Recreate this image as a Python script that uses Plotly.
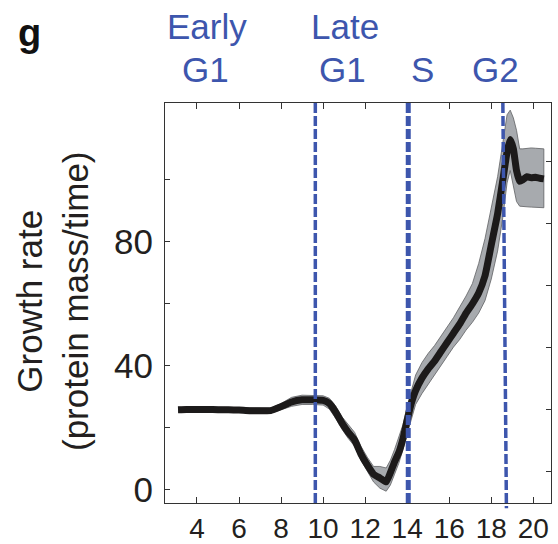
import plotly.graph_objects as go

# ---- data ----
time_h = [3.1, 3.5, 4.0, 4.5, 5.0, 5.5, 6.0, 6.5, 7.0, 7.5, 8.0, 8.5, 9.0, 9.5, 10.0,
          10.3, 10.6, 10.9, 11.2, 11.5, 11.8, 12.1, 12.4, 12.7, 13.0, 13.2, 13.4, 13.6,
          13.8, 14.0, 14.2, 14.4, 14.7, 15.0, 15.3, 15.6, 15.9, 16.2, 16.5, 16.8, 17.1,
          17.4, 17.7, 18.0, 18.3, 18.55, 18.75, 18.9, 19.05, 19.2, 19.35, 19.5, 19.7,
          19.9, 20.1, 20.3, 20.5]
growth_mean = [25.8, 25.9, 25.9, 25.9, 25.8, 25.8, 25.7, 25.5, 25.5, 25.5, 26.8, 28.3,
               29.0, 29.0, 28.8, 27.8, 25.0, 21.5, 18.5, 16.0, 11.5, 8.0, 5.0, 3.8, 2.5,
               5.5, 9.0, 12.0, 16.5, 22.5, 28.0, 32.0, 36.0, 39.0, 41.5, 44.5, 47.5, 50.5,
               53.5, 57.0, 60.0, 63.5, 69.0, 79.0, 89.0, 100.0, 109.0, 113.0, 110.0,
               103.0, 99.5, 100.0, 101.0, 100.7, 100.8, 100.5, 100.3]
growth_low = [25.0, 25.1, 25.1, 25.1, 25.0, 25.0, 24.9, 24.7, 24.7, 24.7, 25.8, 26.9,
              27.5, 27.5, 27.3, 26.0, 23.0, 19.5, 16.5, 14.0, 9.5, 6.0, 2.5, 0.5, -0.5,
              1.5, 5.0, 8.5, 13.0, 18.0, 23.0, 27.5, 31.0, 34.0, 37.0, 40.0, 43.0, 46.0,
              48.5, 51.5, 54.0, 57.0, 61.0, 68.0, 77.0, 88.0, 99.0, 103.0, 98.0, 93.0,
              91.5, 91.5, 91.3, 91.2, 91.1, 91.0, 91.0]
growth_high = [26.6, 26.7, 26.7, 26.7, 26.6, 26.6, 26.5, 26.3, 26.3, 26.3, 27.8, 29.8,
               30.5, 30.5, 30.3, 29.5, 27.0, 23.5, 21.0, 18.5, 14.0, 10.5, 7.5, 7.5, 7.0,
               9.5, 13.0, 17.0, 21.0, 27.0, 32.0, 37.0, 41.0, 44.0, 46.5, 49.5, 52.5,
               55.5, 59.0, 62.5, 66.5, 73.0, 81.0, 91.0, 101.0, 112.0, 121.0, 122.5, 120.0,
               116.0, 110.0, 110.0, 110.2, 110.3, 110.2, 110.1, 110.0]
phase_boundaries = [9.63, 14.05, 18.55]
x_ticks = [4, 6, 8, 10, 12, 14, 16, 18, 20]
y_ticks = [0, 20, 40, 60, 80, 100]
y_ticktext = ["0", "", "40", "", "80", ""]

FONT = "Liberation Sans, Arial, sans-serif"
BLUE = "#3d56ad"
TXT = "#231f20"

fig = go.Figure()

# band (polygon from lower/upper arrays)
fig.add_trace(go.Scatter(
    x=time_h + time_h[::-1],
    y=growth_high + growth_low[::-1],
    fill="toself", fillcolor="#a7aaae",
    line=dict(color="#5f6163", width=0.8),
    mode="lines", hoverinfo="skip", showlegend=False))
# mean
fig.add_trace(go.Scatter(
    x=time_h, y=growth_mean, mode="lines",
    line=dict(color="#1c1a1a", width=7, shape="spline", smoothing=0.4),
    showlegend=False))
# invisible trace for right axis
fig.add_trace(go.Scatter(x=[time_h[0]], y=[growth_mean[0]], yaxis="y2",
                         mode="markers", marker=dict(opacity=0), hoverinfo="skip",
                         showlegend=False))

# phase boundary lines
widths = [3.5, 5, 3.5]
for i, xb in enumerate(phase_boundaries):
    x1 = xb + (0.17 if i == 2 else 0.0)
    y1 = -0.013 if i == 2 else -0.006
    fig.add_shape(type="line", xref="x", yref="paper", x0=xb, x1=x1, y0=1.0, y1=y1,
                  line=dict(color=BLUE, width=widths[i], dash="10px,3px"), layer="above")

# phase labels
labels = [("Early", 207, 26), ("G1", 205, 69), ("Late", 345, 26), ("G1", 342, 69),
          ("S", 422, 69), ("G2", 495, 69)]
L, R, T, B = 165, 7, 103, 41
W, H = 558, 544
pw, ph = W - L - R, H - T - B
for txt, px, py in labels:
    fig.add_annotation(text=txt, xref="paper", yref="paper",
                       x=(px - L) / pw, y=(H - B - py) / ph,
                       xanchor="center", yanchor="middle", showarrow=False,
                       font=dict(family=FONT, size=35, color=BLUE))

# panel letter
fig.add_annotation(text="<b>g</b>", xref="paper", yref="paper",
                   x=(29 - L) / pw, y=(H - B - 33) / ph, xanchor="center", yanchor="middle",
                   showarrow=False, font=dict(family=FONT, size=38, color="#111"))

# y axis title
fig.add_annotation(text="Growth rate<br>(protein mass/time)", xref="paper", yref="paper",
                   x=(52 - L) / pw, y=(H - B - 301) / ph, xanchor="center", yanchor="middle",
                   textangle=-90, showarrow=False,
                   font=dict(family=FONT, size=35, color=TXT))

yr = [-4.3, 124.8]
fig.update_layout(
    width=W, height=H,
    margin=dict(l=L, r=R, t=T, b=B, pad=0, autoexpand=False),
    plot_bgcolor="white", paper_bgcolor="white",
    xaxis=dict(range=[2.48, 20.84], tickvals=x_ticks, ticks="inside", ticklen=6,
               tickcolor="#333", showline=True, linecolor="#333", linewidth=1,
               mirror="ticks", showgrid=False, zeroline=False, automargin=False,
               tickfont=dict(family=FONT, size=28, color=TXT), ticklabelstandoff=0),
    yaxis=dict(range=yr, tickvals=y_ticks, ticktext=y_ticktext, ticks="inside",
               ticklen=5, tickcolor="#333", showline=True, linecolor="#333",
               linewidth=1, mirror=True, showgrid=False, zeroline=False, automargin=False,
               tickfont=dict(family=FONT, size=35, color=TXT), ticklabelstandoff=4),
    yaxis2=dict(range=[yr[0] - 5.8, yr[1] - 5.8], overlaying="y", side="right",
                tickvals=y_ticks, showticklabels=False, ticks="inside", ticklen=5,
                tickcolor="#333", showline=False, showgrid=False, zeroline=False,
                automargin=False),
    showlegend=False,
)

fig.write_html("out.html", config={"displayModeBar": False},
               post_script="document.body.style.margin='0';document.body.style.overflow='hidden';")
